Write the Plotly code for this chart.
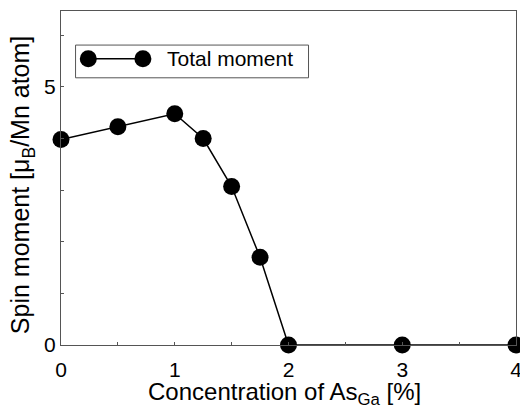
import plotly.graph_objects as go

concentration = [0, 0.5, 1, 1.25, 1.5, 1.75, 2, 3, 4]
total_moment = [3.98, 4.23, 4.48, 4.0, 3.07, 1.7, 0.0, 0.0, 0.0]
series_name = "Total moment"
x_ticks = [0, 1, 2, 3, 4]
y_ticks = [0, 5]

FONT = "Arial, Liberation Sans, Helvetica, sans-serif"
axis_col = "#555555"

fig = go.Figure()
fig.add_trace(go.Scatter(
    x=concentration, y=total_moment, mode="lines+markers",
    line=dict(color="black", width=1.5),
    marker=dict(color="black", size=17),
    cliponaxis=False, showlegend=False, name=series_name,
))

# custom legend (line with two markers + text inside a box)
lx0, lx1, ly = 0.06, 0.18, 0.857
fig.add_shape(type="rect", xref="paper", yref="paper", layer="below",
              x0=0.032, x1=0.544, y0=0.80, y1=0.898,
              line=dict(color=axis_col, width=1), fillcolor="white")
fig.add_shape(type="line", xref="paper", yref="paper", layer="below",
              x0=lx0, x1=lx1, y0=ly, y1=ly, line=dict(color="black", width=1.5))
fig.add_trace(go.Scatter(x=[lx0, lx1], y=[ly, ly], xaxis="x2", yaxis="y2", mode="markers",
                         marker=dict(color="black", size=17), showlegend=False,
                         hoverinfo="skip", cliponaxis=False))
fig.add_annotation(xref="paper", yref="paper", x=0.229, y=ly, text=series_name,
                   showarrow=False, xanchor="left", yanchor="middle",
                   font=dict(family=FONT, size=21, color="black"))

# axis titles as annotations for precise placement
fig.add_annotation(xref="paper", yref="paper", x=-0.084, y=0.478,
                   text="Spin moment [μ<sub>B</sub>/Mn atom]", textangle=-90,
                   showarrow=False, xanchor="center", yanchor="middle",
                   font=dict(family=FONT, size=25, color="black"))
fig.add_annotation(xref="paper", yref="paper", x=0.492, y=-0.146,
                   text="Concentration of As<sub>Ga</sub> [%]",
                   showarrow=False, xanchor="center", yanchor="middle",
                   font=dict(family=FONT, size=24, color="black"))

fig.update_layout(
    width=520, height=409,
    margin=dict(l=61, r=4, t=11, b=64, autoexpand=False),
    paper_bgcolor="white", plot_bgcolor="white",
    font=dict(family=FONT, color="black"),
    xaxis=dict(
        range=[0, 4], tickvals=x_ticks, ticktext=[str(v) for v in x_ticks],
        ticks="inside", ticklen=3, tickcolor=axis_col, tickwidth=1,
        minor=dict(dtick=0.5, ticks="inside", ticklen=3, tickcolor=axis_col),
        showline=True, linecolor=axis_col, linewidth=1, mirror=True,
        showgrid=False, zeroline=False, ticklabeloverflow="allow",
        ticklabelstandoff=6, automargin=False,
        tickfont=dict(size=21, family=FONT, color="black"),
    ),
    yaxis=dict(
        range=[0, 6.47], tickvals=y_ticks, ticktext=[str(v) for v in y_ticks],
        ticks="inside", ticklen=3, tickcolor=axis_col, tickwidth=1,
        minor=dict(dtick=1, ticks="inside", ticklen=3, tickcolor=axis_col),
        showline=True, linecolor=axis_col, linewidth=1, mirror=True,
        showgrid=False, zeroline=False, ticklabeloverflow="allow", automargin=False,
        tickfont=dict(size=21, family=FONT, color="black"),
    ),
    xaxis2=dict(range=[0, 1], domain=[0, 1], visible=False, overlaying="x"),
    yaxis2=dict(range=[0, 1], domain=[0, 1], visible=False, overlaying="y"),
)

fig.write_html("out.html")
